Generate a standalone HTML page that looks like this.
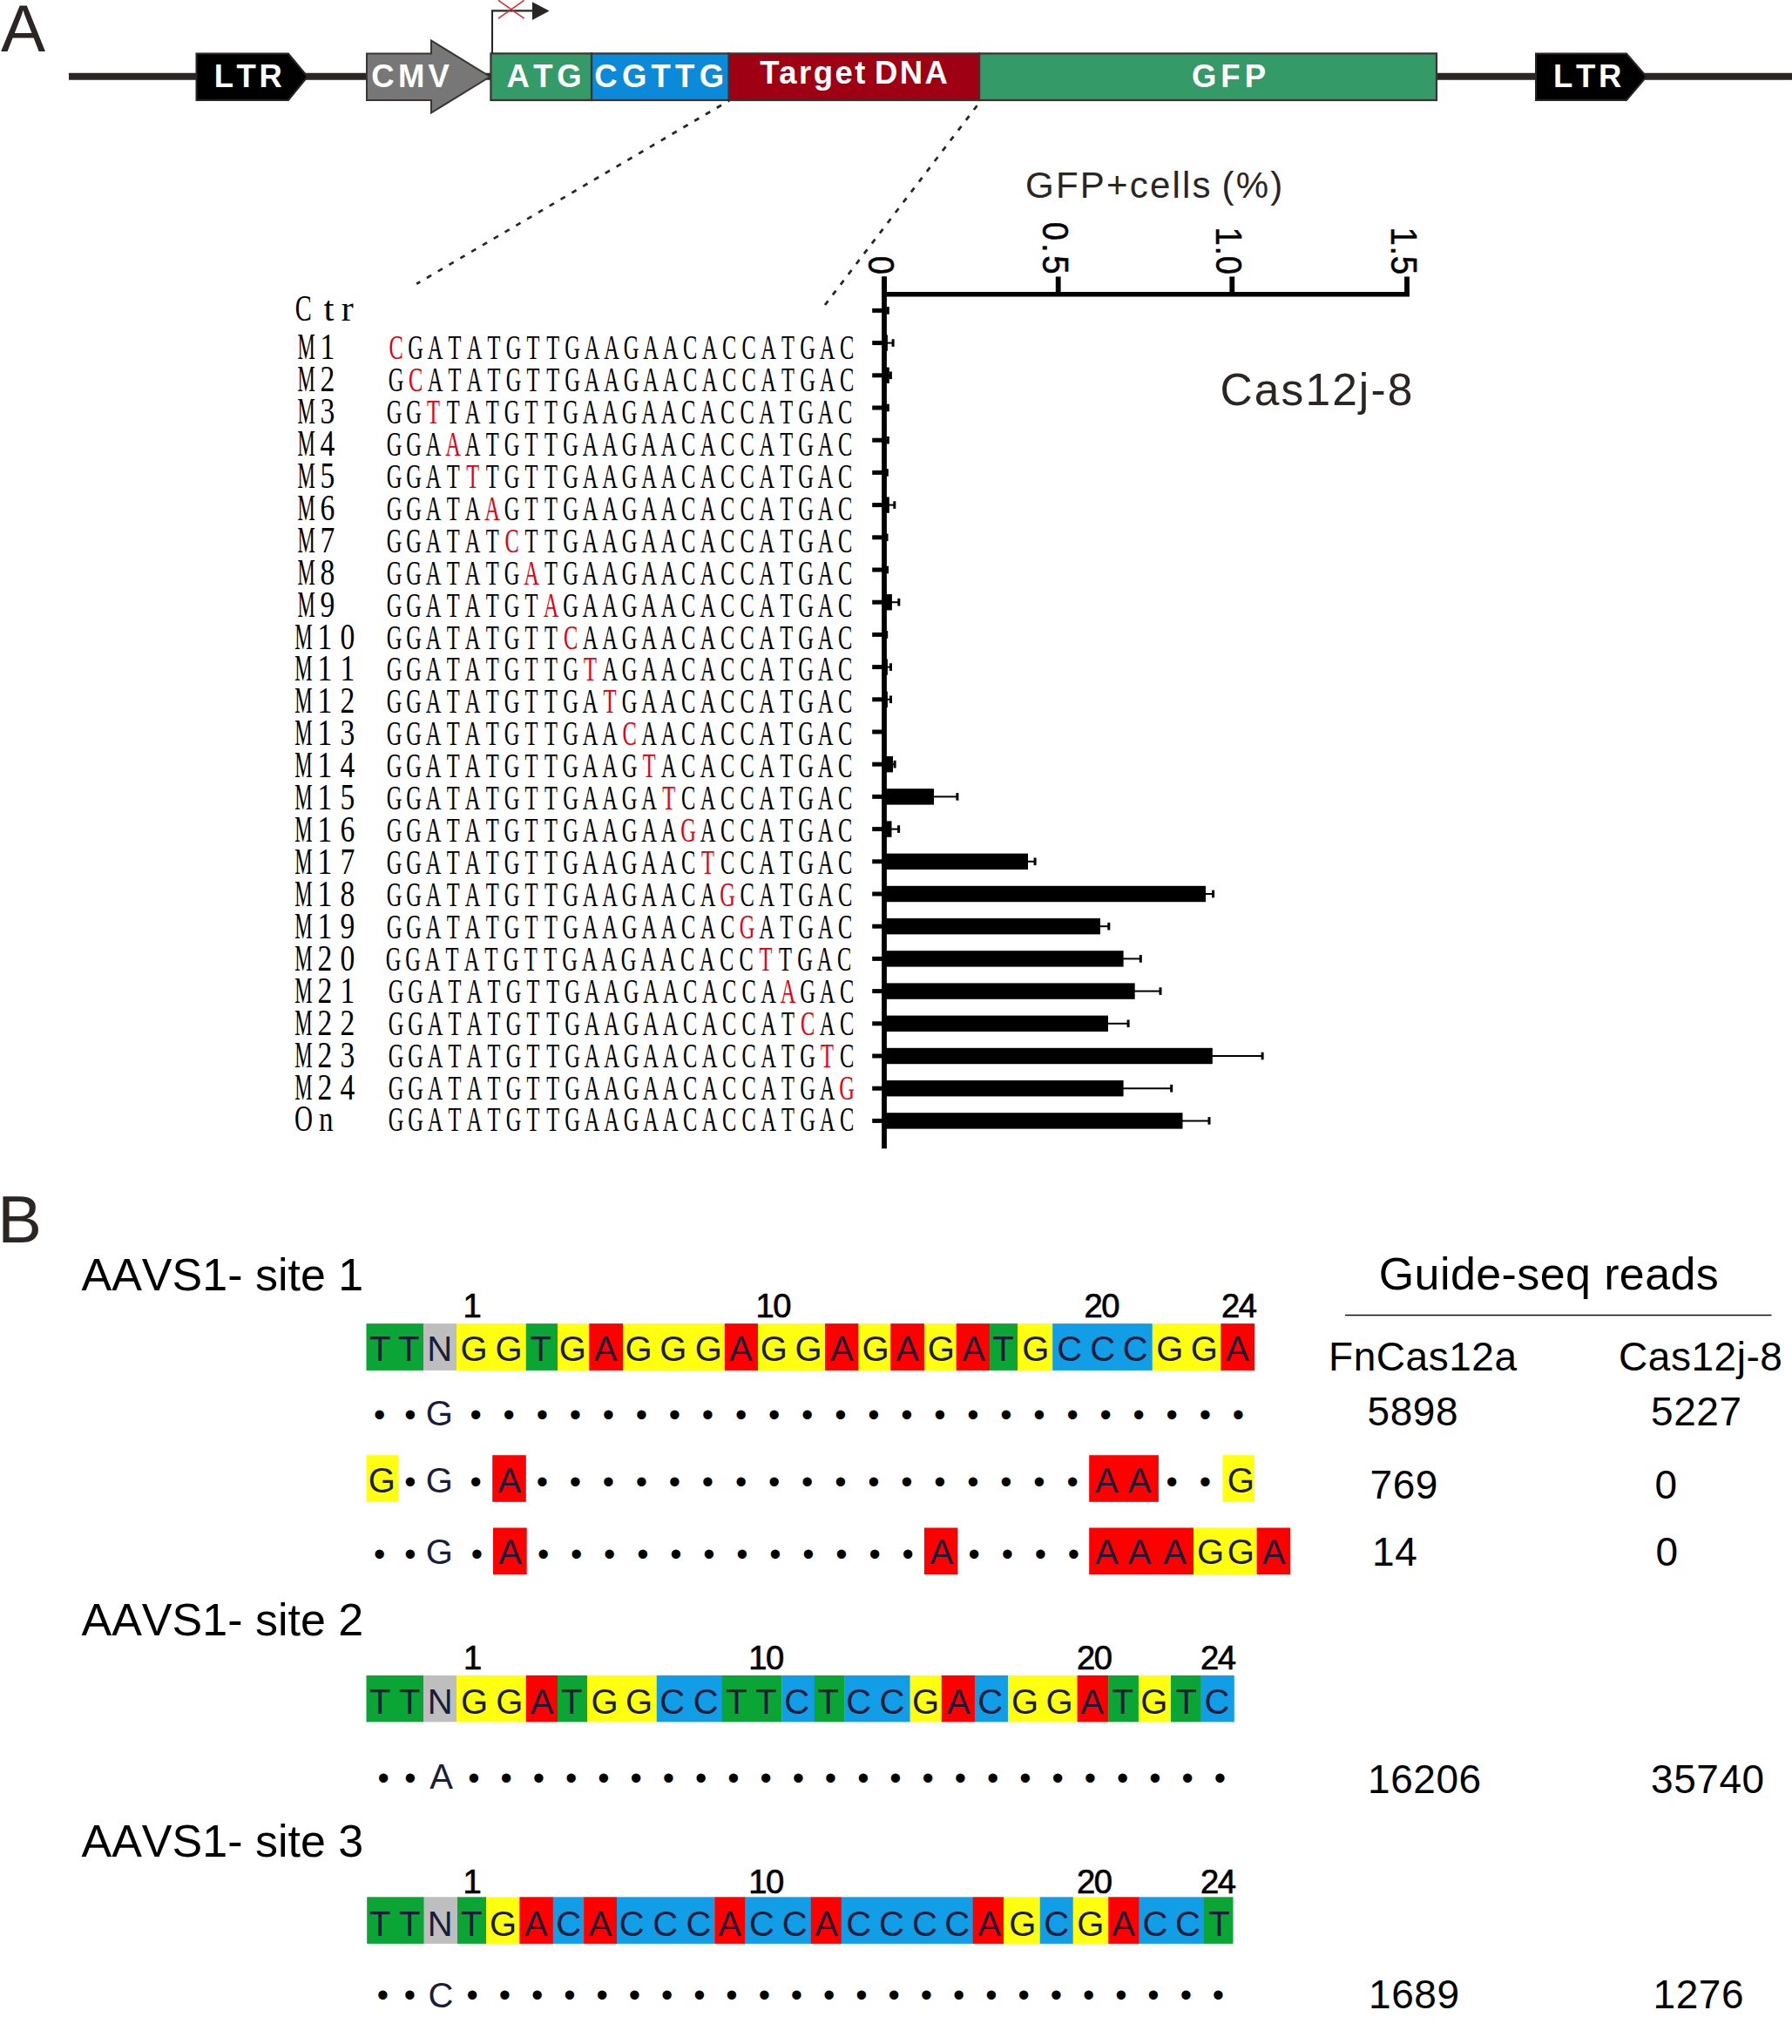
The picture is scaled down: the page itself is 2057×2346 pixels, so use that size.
<!DOCTYPE html>
<html lang="en"><head><meta charset="utf-8"><title>Figure</title>
<style>
html,body{margin:0;padding:0;background:#fff;}
svg{display:block;}
text{font-kerning:none;}
</style></head>
<body>
<svg width="2057" height="2346" viewBox="0 0 2057 2346">
<rect x="0" y="0" width="2057" height="2346" fill="#fff"/>
<g id="construct">
<line x1="79" y1="87.7" x2="2057" y2="87.7" stroke="#2b2523" stroke-width="8"/>
<polygon points="225.5,61.5 331,61.5 353,88 331,115 225.5,115" fill="#000" stroke="#2b2523" stroke-width="2" stroke-linejoin="miter"/>
<polygon points="1763,61.5 1867,61.5 1890,88 1867,115 1763,115" fill="#000" stroke="#2b2523" stroke-width="2" stroke-linejoin="miter"/>
<polygon points="421,61.5 495,61.5 495,46.5 562.5,88 495,129.5 495,115 421,115" fill="#777777" stroke="#3a3634" stroke-width="2"/>
<rect x="1124" y="61.4" width="525" height="53.6" fill="#349a67" stroke="#3a3330" stroke-width="2.2"/>
<rect x="836.5" y="61.4" width="287.5" height="53.6" fill="#9f0013" stroke="#3a3330" stroke-width="2.2"/>
<rect x="679" y="61.4" width="157.5" height="53.6" fill="#0a8ad8" stroke="#3a3330" stroke-width="2.2"/>
<rect x="563.4" y="61.4" width="115.60000000000002" height="53.6" fill="#349a67" stroke="#3a3330" stroke-width="2.2"/>
<polyline points="565,61 565,12.4 612,12.4" fill="none" stroke="#2b2523" stroke-width="2.1"/>
<polygon points="611,2.2 630.6,12.4 611,23" fill="#2b2523"/>
<line x1="572" y1="0.4" x2="601.6" y2="21.2" stroke="#e6212a" stroke-width="1.5"/>
<line x1="572" y1="21.2" x2="601.6" y2="0.4" stroke="#e6212a" stroke-width="1.5"/>
</g>
<text x="286.6" y="100.3" font-family='"Liberation Sans", sans-serif' font-weight="bold" font-size="36.5" fill="#fff" text-anchor="middle" letter-spacing="3.65">LTR</text>
<text x="1824" y="100.3" font-family='"Liberation Sans", sans-serif' font-weight="bold" font-size="36.5" fill="#fff" text-anchor="middle" letter-spacing="3.65">LTR</text>
<text x="473.2" y="100.3" font-family='"Liberation Sans", sans-serif' font-weight="bold" font-size="36.5" fill="#fff" text-anchor="middle" letter-spacing="4.2">CMV</text>
<text x="626.8" y="100.3" font-family='"Liberation Sans", sans-serif' font-weight="bold" font-size="36.5" fill="#fff" text-anchor="middle" letter-spacing="4.5">ATG</text>
<text x="759.3" y="100.3" font-family='"Liberation Sans", sans-serif' font-weight="bold" font-size="36.5" fill="#fff" text-anchor="middle" letter-spacing="5.25">CGTTG</text>
<text x="981.3" y="96.4" font-family='"Liberation Sans", sans-serif' font-weight="bold" font-size="36.5" fill="#fff" text-anchor="middle" letter-spacing="2.45" word-spacing="-4.5" style="font-kerning:normal">Target DNA</text>
<text x="1413" y="100.3" font-family='"Liberation Sans", sans-serif' font-weight="bold" font-size="36.5" fill="#fff" text-anchor="middle" letter-spacing="5">GFP</text>
<text x="1" y="58.5" font-family='"Liberation Sans", sans-serif' font-size="76.6" fill="#2b2523">A</text>
<text x="-2.8" y="1426" font-family='"Liberation Sans", sans-serif' font-size="76" fill="#2b2523">B</text>
<line x1="837" y1="115.5" x2="478.2" y2="325.8" stroke="#2b2523" stroke-width="2.8" stroke-dasharray="6 8.84" stroke-dashoffset="4.4"/>
<line x1="1124" y1="118" x2="947" y2="350" stroke="#2b2523" stroke-width="2.8" stroke-dasharray="6 8.84" stroke-dashoffset="10.76"/>
<g id="chart">
<text x="1325.8" y="227.3" font-family='"Liberation Sans", sans-serif' font-size="42" fill="#2b2523" text-anchor="middle" letter-spacing="2.2" word-spacing="-3">GFP+cells (%)</text>
<text x="1400.5" y="464.8" font-family='"Liberation Sans", sans-serif' font-size="51.5" fill="#2b2523" letter-spacing="2.1">Cas12j-8</text>
<line x1="1012.2" y1="337.7" x2="1618" y2="337.7" stroke="#000" stroke-width="5.4"/>
<line x1="1015" y1="317.5" x2="1015" y2="1318.2" stroke="#000" stroke-width="5.8"/>
<line x1="1015" y1="317.5" x2="1015" y2="337" stroke="#000" stroke-width="5.8"/>
<text transform="translate(997.1,315.2) rotate(90) scale(0.9,1)" font-family='"Liberation Sans", sans-serif' font-size="42.6" fill="#000" stroke="#000" stroke-width="0.5" text-anchor="end" letter-spacing="0">0</text>
<line x1="1214.7" y1="317.5" x2="1214.7" y2="337" stroke="#000" stroke-width="5.8"/>
<text transform="translate(1196.8,318.0) rotate(90) scale(0.9,1)" font-family='"Liberation Sans", sans-serif' font-size="42.6" fill="#000" stroke="#000" stroke-width="0.5" text-anchor="end" letter-spacing="3.7">0.5</text>
<line x1="1414.3" y1="317.5" x2="1414.3" y2="337" stroke="#000" stroke-width="5.8"/>
<text transform="translate(1396.4,315.6) rotate(90) scale(0.9,1)" font-family='"Liberation Sans", sans-serif' font-size="42.6" fill="#000" stroke="#000" stroke-width="0.5" text-anchor="end" letter-spacing="0.65">1.0</text>
<line x1="1615" y1="317.5" x2="1615" y2="337" stroke="#000" stroke-width="5.8"/>
<text transform="translate(1597.1,315.6) rotate(90) scale(0.9,1)" font-family='"Liberation Sans", sans-serif' font-size="42.6" fill="#000" stroke="#000" stroke-width="0.5" text-anchor="end" letter-spacing="0.65">1.5</text>
<line x1="1001.2" y1="356.4" x2="1013" y2="356.4" stroke="#000" stroke-width="5"/>
<line x1="1016.0" y1="356.4" x2="1019.8" y2="356.4" stroke="#000" stroke-width="2"/>
<rect x="1017.8" y="352.1" width="3" height="8.6" fill="#000"/>
<line x1="1001.2" y1="393.6" x2="1013" y2="393.6" stroke="#000" stroke-width="5"/>
<rect x="1016" y="384.4" width="2.9" height="18.4" fill="#000"/>
<line x1="1017.9" y1="393.6" x2="1025.6" y2="393.6" stroke="#000" stroke-width="2"/>
<rect x="1023.6" y="389.3" width="3" height="8.6" fill="#000"/>
<line x1="1001.2" y1="430.8" x2="1013" y2="430.8" stroke="#000" stroke-width="5"/>
<rect x="1016" y="421.6" width="4.8" height="18.4" fill="#000"/>
<line x1="1019.8" y1="430.8" x2="1022.9" y2="430.8" stroke="#000" stroke-width="2"/>
<rect x="1020.9" y="426.5" width="3" height="8.6" fill="#000"/>
<line x1="1001.2" y1="468.0" x2="1013" y2="468.0" stroke="#000" stroke-width="5"/>
<line x1="1016.0" y1="468.0" x2="1019.8" y2="468.0" stroke="#000" stroke-width="2"/>
<rect x="1017.8" y="463.7" width="3" height="8.6" fill="#000"/>
<line x1="1001.2" y1="505.2" x2="1013" y2="505.2" stroke="#000" stroke-width="5"/>
<line x1="1016.0" y1="505.2" x2="1019.8" y2="505.2" stroke="#000" stroke-width="2"/>
<rect x="1017.8" y="500.9" width="3" height="8.6" fill="#000"/>
<line x1="1001.2" y1="542.4" x2="1013" y2="542.4" stroke="#000" stroke-width="5"/>
<line x1="1016.0" y1="542.4" x2="1018.8" y2="542.4" stroke="#000" stroke-width="2"/>
<rect x="1016.8" y="538.1" width="3" height="8.6" fill="#000"/>
<line x1="1001.2" y1="579.6" x2="1013" y2="579.6" stroke="#000" stroke-width="5"/>
<rect x="1016" y="570.4" width="4.8" height="18.4" fill="#000"/>
<line x1="1019.8" y1="579.6" x2="1027.3" y2="579.6" stroke="#000" stroke-width="2"/>
<rect x="1025.3" y="575.3" width="3" height="8.6" fill="#000"/>
<line x1="1001.2" y1="616.8" x2="1013" y2="616.8" stroke="#000" stroke-width="5"/>
<line x1="1016.0" y1="616.8" x2="1018.5" y2="616.8" stroke="#000" stroke-width="2"/>
<rect x="1016.5" y="612.5" width="3" height="8.6" fill="#000"/>
<line x1="1001.2" y1="654.0" x2="1013" y2="654.0" stroke="#000" stroke-width="5"/>
<line x1="1016.0" y1="654.0" x2="1019.0" y2="654.0" stroke="#000" stroke-width="2"/>
<rect x="1017.0" y="649.7" width="3" height="8.6" fill="#000"/>
<line x1="1001.2" y1="691.2" x2="1013" y2="691.2" stroke="#000" stroke-width="5"/>
<rect x="1016" y="682.0" width="7.9" height="18.4" fill="#000"/>
<line x1="1022.9" y1="691.2" x2="1032.3" y2="691.2" stroke="#000" stroke-width="2"/>
<rect x="1030.3" y="686.9" width="3" height="8.6" fill="#000"/>
<line x1="1001.2" y1="728.4" x2="1013" y2="728.4" stroke="#000" stroke-width="5"/>
<line x1="1016.0" y1="728.4" x2="1018.2" y2="728.4" stroke="#000" stroke-width="2"/>
<rect x="1016.2" y="724.1" width="3" height="8.6" fill="#000"/>
<line x1="1001.2" y1="765.6" x2="1013" y2="765.6" stroke="#000" stroke-width="5"/>
<rect x="1016" y="756.4" width="2.9" height="18.4" fill="#000"/>
<line x1="1017.9" y1="765.6" x2="1023.0" y2="765.6" stroke="#000" stroke-width="2"/>
<rect x="1021.0" y="761.3" width="3" height="8.6" fill="#000"/>
<line x1="1001.2" y1="802.8" x2="1013" y2="802.8" stroke="#000" stroke-width="5"/>
<rect x="1016" y="793.6" width="2.9" height="18.4" fill="#000"/>
<line x1="1017.9" y1="802.8" x2="1023.0" y2="802.8" stroke="#000" stroke-width="2"/>
<rect x="1021.0" y="798.5" width="3" height="8.6" fill="#000"/>
<line x1="1001.2" y1="840.0" x2="1013" y2="840.0" stroke="#000" stroke-width="5"/>
<line x1="1001.2" y1="877.2" x2="1013" y2="877.2" stroke="#000" stroke-width="5"/>
<rect x="1016" y="868.0" width="9.0" height="18.4" fill="#000"/>
<line x1="1024.0" y1="877.2" x2="1027.6" y2="877.2" stroke="#000" stroke-width="2"/>
<rect x="1025.6" y="872.9" width="3" height="8.6" fill="#000"/>
<line x1="1001.2" y1="914.4" x2="1013" y2="914.4" stroke="#000" stroke-width="5"/>
<rect x="1016" y="905.2" width="56.0" height="18.4" fill="#000"/>
<line x1="1071.0" y1="914.4" x2="1099.4" y2="914.4" stroke="#000" stroke-width="2"/>
<rect x="1097.4" y="910.1" width="3" height="8.6" fill="#000"/>
<line x1="1001.2" y1="951.6" x2="1013" y2="951.6" stroke="#000" stroke-width="5"/>
<rect x="1016" y="942.4" width="7.5" height="18.4" fill="#000"/>
<line x1="1022.5" y1="951.6" x2="1032.1" y2="951.6" stroke="#000" stroke-width="2"/>
<rect x="1030.1" y="947.3" width="3" height="8.6" fill="#000"/>
<line x1="1001.2" y1="988.8" x2="1013" y2="988.8" stroke="#000" stroke-width="5"/>
<rect x="1016" y="979.6" width="164.0" height="18.4" fill="#000"/>
<line x1="1179.0" y1="988.8" x2="1188.6" y2="988.8" stroke="#000" stroke-width="2"/>
<rect x="1186.6" y="984.5" width="3" height="8.6" fill="#000"/>
<line x1="1001.2" y1="1026.0" x2="1013" y2="1026.0" stroke="#000" stroke-width="5"/>
<rect x="1016" y="1016.8" width="368.0" height="18.4" fill="#000"/>
<line x1="1383.0" y1="1026.0" x2="1393.1" y2="1026.0" stroke="#000" stroke-width="2"/>
<rect x="1391.1" y="1021.7" width="3" height="8.6" fill="#000"/>
<line x1="1001.2" y1="1063.2" x2="1013" y2="1063.2" stroke="#000" stroke-width="5"/>
<rect x="1016" y="1054.0" width="247.0" height="18.4" fill="#000"/>
<line x1="1262.0" y1="1063.2" x2="1273.3" y2="1063.2" stroke="#000" stroke-width="2"/>
<rect x="1271.3" y="1058.9" width="3" height="8.6" fill="#000"/>
<line x1="1001.2" y1="1100.4" x2="1013" y2="1100.4" stroke="#000" stroke-width="5"/>
<rect x="1016" y="1091.2" width="273.6" height="18.4" fill="#000"/>
<line x1="1288.6" y1="1100.4" x2="1309.8" y2="1100.4" stroke="#000" stroke-width="2"/>
<rect x="1307.8" y="1096.1" width="3" height="8.6" fill="#000"/>
<line x1="1001.2" y1="1137.6" x2="1013" y2="1137.6" stroke="#000" stroke-width="5"/>
<rect x="1016" y="1128.4" width="286.7" height="18.4" fill="#000"/>
<line x1="1301.7" y1="1137.6" x2="1332.5" y2="1137.6" stroke="#000" stroke-width="2"/>
<rect x="1330.5" y="1133.3" width="3" height="8.6" fill="#000"/>
<line x1="1001.2" y1="1174.8" x2="1013" y2="1174.8" stroke="#000" stroke-width="5"/>
<rect x="1016" y="1165.6" width="256.0" height="18.4" fill="#000"/>
<line x1="1271.0" y1="1174.8" x2="1295.6" y2="1174.8" stroke="#000" stroke-width="2"/>
<rect x="1293.6" y="1170.5" width="3" height="8.6" fill="#000"/>
<line x1="1001.2" y1="1212.0" x2="1013" y2="1212.0" stroke="#000" stroke-width="5"/>
<rect x="1016" y="1202.8" width="375.8" height="18.4" fill="#000"/>
<line x1="1390.8" y1="1212.0" x2="1449.6" y2="1212.0" stroke="#000" stroke-width="2"/>
<rect x="1447.6" y="1207.7" width="3" height="8.6" fill="#000"/>
<line x1="1001.2" y1="1249.2" x2="1013" y2="1249.2" stroke="#000" stroke-width="5"/>
<rect x="1016" y="1240.0" width="273.6" height="18.4" fill="#000"/>
<line x1="1288.6" y1="1249.2" x2="1345.2" y2="1249.2" stroke="#000" stroke-width="2"/>
<rect x="1343.2" y="1244.9" width="3" height="8.6" fill="#000"/>
<line x1="1001.2" y1="1286.4" x2="1013" y2="1286.4" stroke="#000" stroke-width="5"/>
<rect x="1016" y="1277.2" width="341.5" height="18.4" fill="#000"/>
<line x1="1356.5" y1="1286.4" x2="1388.5" y2="1286.4" stroke="#000" stroke-width="2"/>
<rect x="1386.5" y="1282.1" width="3" height="8.6" fill="#000"/>
<text y="368.4" font-family='"Liberation Serif", serif' font-size="43" fill="#000"><tspan x="338.7" textLength="19.0" lengthAdjust="spacingAndGlyphs">C</tspan><tspan x="371.5" textLength="12.0" lengthAdjust="spacingAndGlyphs" font-size="40">t</tspan><tspan x="391.7" textLength="14.0" lengthAdjust="spacingAndGlyphs" font-size="40">r</tspan></text>
<text y="412.1" font-family='"Liberation Serif", serif' font-size="43" fill="#000"><tspan x="341.5" textLength="20.3" lengthAdjust="spacingAndGlyphs">M</tspan><tspan x="367.4" textLength="16.8" lengthAdjust="spacingAndGlyphs">1</tspan></text>
<text transform="translate(0,412.1) scale(0.597,1)" x="761.5 799.2 836.9 874.5 912.2 949.9 987.6 1025.3 1063.0 1100.7 1138.4 1176.0 1213.7 1251.4 1289.1 1326.8 1364.5 1402.2 1439.9 1477.6 1515.2 1552.9 1590.6 1628.3" y="0" font-family='"Liberation Serif", serif' font-size="41" fill="#000" text-anchor="middle"><tspan fill="#e60012">C</tspan>GATATGTTGAAGAACACCATGAC</text>
<text y="449.0" font-family='"Liberation Serif", serif' font-size="43" fill="#000"><tspan x="341.5" textLength="20.3" lengthAdjust="spacingAndGlyphs">M</tspan><tspan x="367.4" textLength="16.8" lengthAdjust="spacingAndGlyphs">2</tspan></text>
<text transform="translate(0,449.0) scale(0.597,1)" x="761.5 799.2 836.9 874.5 912.2 949.9 987.6 1025.3 1063.0 1100.7 1138.4 1176.0 1213.7 1251.4 1289.1 1326.8 1364.5 1402.2 1439.9 1477.6 1515.2 1552.9 1590.6 1628.3" y="0" font-family='"Liberation Serif", serif' font-size="41" fill="#000" text-anchor="middle">G<tspan fill="#e60012">C</tspan>ATATGTTGAAGAACACCATGAC</text>
<text y="486.0" font-family='"Liberation Serif", serif' font-size="43" fill="#000"><tspan x="341.5" textLength="20.3" lengthAdjust="spacingAndGlyphs">M</tspan><tspan x="367.4" textLength="16.8" lengthAdjust="spacingAndGlyphs">3</tspan></text>
<text transform="translate(0,486.0) scale(0.597,1)" x="758.1 795.8 833.5 871.2 908.9 946.6 984.3 1021.9 1059.6 1097.3 1135.0 1172.7 1210.4 1248.1 1285.8 1323.5 1361.1 1398.8 1436.5 1474.2 1511.9 1549.6 1587.3 1625.0" y="0" font-family='"Liberation Serif", serif' font-size="41" fill="#000" text-anchor="middle">GG<tspan fill="#e60012">T</tspan>TATGTTGAAGAACACCATGAC</text>
<text y="522.9" font-family='"Liberation Serif", serif' font-size="43" fill="#000"><tspan x="341.5" textLength="20.3" lengthAdjust="spacingAndGlyphs">M</tspan><tspan x="367.4" textLength="16.8" lengthAdjust="spacingAndGlyphs">4</tspan></text>
<text transform="translate(0,522.9) scale(0.597,1)" x="758.1 795.8 833.5 871.2 908.9 946.6 984.3 1021.9 1059.6 1097.3 1135.0 1172.7 1210.4 1248.1 1285.8 1323.5 1361.1 1398.8 1436.5 1474.2 1511.9 1549.6 1587.3 1625.0" y="0" font-family='"Liberation Serif", serif' font-size="41" fill="#000" text-anchor="middle">GGA<tspan fill="#e60012">A</tspan>ATGTTGAAGAACACCATGAC</text>
<text y="559.8" font-family='"Liberation Serif", serif' font-size="43" fill="#000"><tspan x="341.5" textLength="20.3" lengthAdjust="spacingAndGlyphs">M</tspan><tspan x="367.4" textLength="16.8" lengthAdjust="spacingAndGlyphs">5</tspan></text>
<text transform="translate(0,559.8) scale(0.597,1)" x="758.1 795.8 833.5 871.2 908.9 946.6 984.3 1021.9 1059.6 1097.3 1135.0 1172.7 1210.4 1248.1 1285.8 1323.5 1361.1 1398.8 1436.5 1474.2 1511.9 1549.6 1587.3 1625.0" y="0" font-family='"Liberation Serif", serif' font-size="41" fill="#000" text-anchor="middle">GGAT<tspan fill="#e60012">T</tspan>TGTTGAAGAACACCATGAC</text>
<text y="596.8" font-family='"Liberation Serif", serif' font-size="43" fill="#000"><tspan x="341.5" textLength="20.3" lengthAdjust="spacingAndGlyphs">M</tspan><tspan x="367.4" textLength="16.8" lengthAdjust="spacingAndGlyphs">6</tspan></text>
<text transform="translate(0,596.8) scale(0.597,1)" x="758.1 795.8 833.5 871.2 908.9 946.6 984.3 1021.9 1059.6 1097.3 1135.0 1172.7 1210.4 1248.1 1285.8 1323.5 1361.1 1398.8 1436.5 1474.2 1511.9 1549.6 1587.3 1625.0" y="0" font-family='"Liberation Serif", serif' font-size="41" fill="#000" text-anchor="middle">GGATA<tspan fill="#e60012">A</tspan>GTTGAAGAACACCATGAC</text>
<text y="633.7" font-family='"Liberation Serif", serif' font-size="43" fill="#000"><tspan x="341.5" textLength="20.3" lengthAdjust="spacingAndGlyphs">M</tspan><tspan x="367.4" textLength="16.8" lengthAdjust="spacingAndGlyphs">7</tspan></text>
<text transform="translate(0,633.7) scale(0.597,1)" x="758.1 795.8 833.5 871.2 908.9 946.6 984.3 1021.9 1059.6 1097.3 1135.0 1172.7 1210.4 1248.1 1285.8 1323.5 1361.1 1398.8 1436.5 1474.2 1511.9 1549.6 1587.3 1625.0" y="0" font-family='"Liberation Serif", serif' font-size="41" fill="#000" text-anchor="middle">GGATAT<tspan fill="#e60012">C</tspan>TTGAAGAACACCATGAC</text>
<text y="670.6" font-family='"Liberation Serif", serif' font-size="43" fill="#000"><tspan x="341.5" textLength="20.3" lengthAdjust="spacingAndGlyphs">M</tspan><tspan x="367.4" textLength="16.8" lengthAdjust="spacingAndGlyphs">8</tspan></text>
<text transform="translate(0,670.6) scale(0.597,1)" x="758.1 795.8 833.5 871.2 908.9 946.6 984.3 1021.9 1059.6 1097.3 1135.0 1172.7 1210.4 1248.1 1285.8 1323.5 1361.1 1398.8 1436.5 1474.2 1511.9 1549.6 1587.3 1625.0" y="0" font-family='"Liberation Serif", serif' font-size="41" fill="#000" text-anchor="middle">GGATATG<tspan fill="#e60012">A</tspan>TGAAGAACACCATGAC</text>
<text y="707.5" font-family='"Liberation Serif", serif' font-size="43" fill="#000"><tspan x="341.5" textLength="20.3" lengthAdjust="spacingAndGlyphs">M</tspan><tspan x="367.4" textLength="16.8" lengthAdjust="spacingAndGlyphs">9</tspan></text>
<text transform="translate(0,707.5) scale(0.597,1)" x="758.1 795.8 833.5 871.2 908.9 946.6 984.3 1021.9 1059.6 1097.3 1135.0 1172.7 1210.4 1248.1 1285.8 1323.5 1361.1 1398.8 1436.5 1474.2 1511.9 1549.6 1587.3 1625.0" y="0" font-family='"Liberation Serif", serif' font-size="41" fill="#000" text-anchor="middle">GGATATGT<tspan fill="#e60012">A</tspan>GAAGAACACCATGAC</text>
<text y="744.5" font-family='"Liberation Serif", serif' font-size="43" fill="#000"><tspan x="338.2" textLength="20.3" lengthAdjust="spacingAndGlyphs">M</tspan><tspan x="364.4" textLength="16.8" lengthAdjust="spacingAndGlyphs">1</tspan><tspan x="390.5" textLength="16.8" lengthAdjust="spacingAndGlyphs">0</tspan></text>
<text transform="translate(0,744.5) scale(0.597,1)" x="758.1 795.8 833.5 871.2 908.9 946.6 984.3 1021.9 1059.6 1097.3 1135.0 1172.7 1210.4 1248.1 1285.8 1323.5 1361.1 1398.8 1436.5 1474.2 1511.9 1549.6 1587.3 1625.0" y="0" font-family='"Liberation Serif", serif' font-size="41" fill="#000" text-anchor="middle">GGATATGTT<tspan fill="#e60012">C</tspan>AAGAACACCATGAC</text>
<text y="781.4" font-family='"Liberation Serif", serif' font-size="43" fill="#000"><tspan x="338.2" textLength="20.3" lengthAdjust="spacingAndGlyphs">M</tspan><tspan x="364.4" textLength="16.8" lengthAdjust="spacingAndGlyphs">1</tspan><tspan x="390.5" textLength="16.8" lengthAdjust="spacingAndGlyphs">1</tspan></text>
<text transform="translate(0,781.4) scale(0.597,1)" x="758.1 795.8 833.5 871.2 908.9 946.6 984.3 1021.9 1059.6 1097.3 1135.0 1172.7 1210.4 1248.1 1285.8 1323.5 1361.1 1398.8 1436.5 1474.2 1511.9 1549.6 1587.3 1625.0" y="0" font-family='"Liberation Serif", serif' font-size="41" fill="#000" text-anchor="middle">GGATATGTTG<tspan fill="#e60012">T</tspan>AGAACACCATGAC</text>
<text y="818.3" font-family='"Liberation Serif", serif' font-size="43" fill="#000"><tspan x="338.2" textLength="20.3" lengthAdjust="spacingAndGlyphs">M</tspan><tspan x="364.4" textLength="16.8" lengthAdjust="spacingAndGlyphs">1</tspan><tspan x="390.5" textLength="16.8" lengthAdjust="spacingAndGlyphs">2</tspan></text>
<text transform="translate(0,818.3) scale(0.597,1)" x="758.1 795.8 833.5 871.2 908.9 946.6 984.3 1021.9 1059.6 1097.3 1135.0 1172.7 1210.4 1248.1 1285.8 1323.5 1361.1 1398.8 1436.5 1474.2 1511.9 1549.6 1587.3 1625.0" y="0" font-family='"Liberation Serif", serif' font-size="41" fill="#000" text-anchor="middle">GGATATGTTGA<tspan fill="#e60012">T</tspan>GAACACCATGAC</text>
<text y="855.3" font-family='"Liberation Serif", serif' font-size="43" fill="#000"><tspan x="338.2" textLength="20.3" lengthAdjust="spacingAndGlyphs">M</tspan><tspan x="364.4" textLength="16.8" lengthAdjust="spacingAndGlyphs">1</tspan><tspan x="390.5" textLength="16.8" lengthAdjust="spacingAndGlyphs">3</tspan></text>
<text transform="translate(0,855.3) scale(0.597,1)" x="758.1 795.8 833.5 871.2 908.9 946.6 984.3 1021.9 1059.6 1097.3 1135.0 1172.7 1210.4 1248.1 1285.8 1323.5 1361.1 1398.8 1436.5 1474.2 1511.9 1549.6 1587.3 1625.0" y="0" font-family='"Liberation Serif", serif' font-size="41" fill="#000" text-anchor="middle">GGATATGTTGAA<tspan fill="#e60012">C</tspan>AACACCATGAC</text>
<text y="892.2" font-family='"Liberation Serif", serif' font-size="43" fill="#000"><tspan x="338.2" textLength="20.3" lengthAdjust="spacingAndGlyphs">M</tspan><tspan x="364.4" textLength="16.8" lengthAdjust="spacingAndGlyphs">1</tspan><tspan x="390.5" textLength="16.8" lengthAdjust="spacingAndGlyphs">4</tspan></text>
<text transform="translate(0,892.2) scale(0.597,1)" x="758.1 795.8 833.5 871.2 908.9 946.6 984.3 1021.9 1059.6 1097.3 1135.0 1172.7 1210.4 1248.1 1285.8 1323.5 1361.1 1398.8 1436.5 1474.2 1511.9 1549.6 1587.3 1625.0" y="0" font-family='"Liberation Serif", serif' font-size="41" fill="#000" text-anchor="middle">GGATATGTTGAAG<tspan fill="#e60012">T</tspan>ACACCATGAC</text>
<text y="929.1" font-family='"Liberation Serif", serif' font-size="43" fill="#000"><tspan x="338.2" textLength="20.3" lengthAdjust="spacingAndGlyphs">M</tspan><tspan x="364.4" textLength="16.8" lengthAdjust="spacingAndGlyphs">1</tspan><tspan x="390.5" textLength="16.8" lengthAdjust="spacingAndGlyphs">5</tspan></text>
<text transform="translate(0,929.1) scale(0.597,1)" x="758.1 795.8 833.5 871.2 908.9 946.6 984.3 1021.9 1059.6 1097.3 1135.0 1172.7 1210.4 1248.1 1285.8 1323.5 1361.1 1398.8 1436.5 1474.2 1511.9 1549.6 1587.3 1625.0" y="0" font-family='"Liberation Serif", serif' font-size="41" fill="#000" text-anchor="middle">GGATATGTTGAAGA<tspan fill="#e60012">T</tspan>CACCATGAC</text>
<text y="966.1" font-family='"Liberation Serif", serif' font-size="43" fill="#000"><tspan x="338.2" textLength="20.3" lengthAdjust="spacingAndGlyphs">M</tspan><tspan x="364.4" textLength="16.8" lengthAdjust="spacingAndGlyphs">1</tspan><tspan x="390.5" textLength="16.8" lengthAdjust="spacingAndGlyphs">6</tspan></text>
<text transform="translate(0,966.1) scale(0.597,1)" x="758.1 795.8 833.5 871.2 908.9 946.6 984.3 1021.9 1059.6 1097.3 1135.0 1172.7 1210.4 1248.1 1285.8 1323.5 1361.1 1398.8 1436.5 1474.2 1511.9 1549.6 1587.3 1625.0" y="0" font-family='"Liberation Serif", serif' font-size="41" fill="#000" text-anchor="middle">GGATATGTTGAAGAA<tspan fill="#e60012">G</tspan>ACCATGAC</text>
<text y="1003.0" font-family='"Liberation Serif", serif' font-size="43" fill="#000"><tspan x="338.2" textLength="20.3" lengthAdjust="spacingAndGlyphs">M</tspan><tspan x="364.4" textLength="16.8" lengthAdjust="spacingAndGlyphs">1</tspan><tspan x="390.5" textLength="16.8" lengthAdjust="spacingAndGlyphs">7</tspan></text>
<text transform="translate(0,1003.0) scale(0.597,1)" x="758.1 795.8 833.5 871.2 908.9 946.6 984.3 1021.9 1059.6 1097.3 1135.0 1172.7 1210.4 1248.1 1285.8 1323.5 1361.1 1398.8 1436.5 1474.2 1511.9 1549.6 1587.3 1625.0" y="0" font-family='"Liberation Serif", serif' font-size="41" fill="#000" text-anchor="middle">GGATATGTTGAAGAAC<tspan fill="#e60012">T</tspan>CCATGAC</text>
<text y="1039.9" font-family='"Liberation Serif", serif' font-size="43" fill="#000"><tspan x="338.2" textLength="20.3" lengthAdjust="spacingAndGlyphs">M</tspan><tspan x="364.4" textLength="16.8" lengthAdjust="spacingAndGlyphs">1</tspan><tspan x="390.5" textLength="16.8" lengthAdjust="spacingAndGlyphs">8</tspan></text>
<text transform="translate(0,1039.9) scale(0.597,1)" x="758.1 795.8 833.5 871.2 908.9 946.6 984.3 1021.9 1059.6 1097.3 1135.0 1172.7 1210.4 1248.1 1285.8 1323.5 1361.1 1398.8 1436.5 1474.2 1511.9 1549.6 1587.3 1625.0" y="0" font-family='"Liberation Serif", serif' font-size="41" fill="#000" text-anchor="middle">GGATATGTTGAAGAACA<tspan fill="#e60012">G</tspan>CATGAC</text>
<text y="1076.8" font-family='"Liberation Serif", serif' font-size="43" fill="#000"><tspan x="338.2" textLength="20.3" lengthAdjust="spacingAndGlyphs">M</tspan><tspan x="364.4" textLength="16.8" lengthAdjust="spacingAndGlyphs">1</tspan><tspan x="390.5" textLength="16.8" lengthAdjust="spacingAndGlyphs">9</tspan></text>
<text transform="translate(0,1076.8) scale(0.597,1)" x="758.1 795.8 833.5 871.2 908.9 946.6 984.3 1021.9 1059.6 1097.3 1135.0 1172.7 1210.4 1248.1 1285.8 1323.5 1361.1 1398.8 1436.5 1474.2 1511.9 1549.6 1587.3 1625.0" y="0" font-family='"Liberation Serif", serif' font-size="41" fill="#000" text-anchor="middle">GGATATGTTGAAGAACAC<tspan fill="#e60012">G</tspan>ATGAC</text>
<text y="1113.8" font-family='"Liberation Serif", serif' font-size="43" fill="#000"><tspan x="338.2" textLength="20.3" lengthAdjust="spacingAndGlyphs">M</tspan><tspan x="364.4" textLength="16.8" lengthAdjust="spacingAndGlyphs">2</tspan><tspan x="390.5" textLength="16.8" lengthAdjust="spacingAndGlyphs">0</tspan></text>
<text transform="translate(0,1113.8) scale(0.597,1)" x="756.4 794.1 831.8 869.5 907.2 944.9 982.6 1020.3 1058.0 1095.6 1133.3 1171.0 1208.7 1246.4 1284.1 1321.8 1359.5 1397.2 1434.8 1472.5 1510.2 1547.9 1585.6 1623.3" y="0" font-family='"Liberation Serif", serif' font-size="41" fill="#000" text-anchor="middle">GGATATGTTGAAGAACACC<tspan fill="#e60012">T</tspan>TGAC</text>
<text y="1150.7" font-family='"Liberation Serif", serif' font-size="43" fill="#000"><tspan x="338.2" textLength="20.3" lengthAdjust="spacingAndGlyphs">M</tspan><tspan x="364.4" textLength="16.8" lengthAdjust="spacingAndGlyphs">2</tspan><tspan x="390.5" textLength="16.8" lengthAdjust="spacingAndGlyphs">1</tspan></text>
<text transform="translate(0,1150.7) scale(0.597,1)" x="761.5 799.2 836.9 874.5 912.2 949.9 987.6 1025.3 1063.0 1100.7 1138.4 1176.0 1213.7 1251.4 1289.1 1326.8 1364.5 1402.2 1439.9 1477.6 1515.2 1552.9 1590.6 1628.3" y="0" font-family='"Liberation Serif", serif' font-size="41" fill="#000" text-anchor="middle">GGATATGTTGAAGAACACCA<tspan fill="#e60012">A</tspan>GAC</text>
<text y="1187.6" font-family='"Liberation Serif", serif' font-size="43" fill="#000"><tspan x="338.2" textLength="20.3" lengthAdjust="spacingAndGlyphs">M</tspan><tspan x="364.4" textLength="16.8" lengthAdjust="spacingAndGlyphs">2</tspan><tspan x="390.5" textLength="16.8" lengthAdjust="spacingAndGlyphs">2</tspan></text>
<text transform="translate(0,1187.6) scale(0.597,1)" x="761.5 799.2 836.9 874.5 912.2 949.9 987.6 1025.3 1063.0 1100.7 1138.4 1176.0 1213.7 1251.4 1289.1 1326.8 1364.5 1402.2 1439.9 1477.6 1515.2 1552.9 1590.6 1628.3" y="0" font-family='"Liberation Serif", serif' font-size="41" fill="#000" text-anchor="middle">GGATATGTTGAAGAACACCAT<tspan fill="#e60012">C</tspan>AC</text>
<text y="1224.6" font-family='"Liberation Serif", serif' font-size="43" fill="#000"><tspan x="338.2" textLength="20.3" lengthAdjust="spacingAndGlyphs">M</tspan><tspan x="364.4" textLength="16.8" lengthAdjust="spacingAndGlyphs">2</tspan><tspan x="390.5" textLength="16.8" lengthAdjust="spacingAndGlyphs">3</tspan></text>
<text transform="translate(0,1224.6) scale(0.597,1)" x="761.5 799.2 836.9 874.5 912.2 949.9 987.6 1025.3 1063.0 1100.7 1138.4 1176.0 1213.7 1251.4 1289.1 1326.8 1364.5 1402.2 1439.9 1477.6 1515.2 1552.9 1590.6 1628.3" y="0" font-family='"Liberation Serif", serif' font-size="41" fill="#000" text-anchor="middle">GGATATGTTGAAGAACACCATG<tspan fill="#e60012">T</tspan>C</text>
<text y="1261.5" font-family='"Liberation Serif", serif' font-size="43" fill="#000"><tspan x="338.2" textLength="20.3" lengthAdjust="spacingAndGlyphs">M</tspan><tspan x="364.4" textLength="16.8" lengthAdjust="spacingAndGlyphs">2</tspan><tspan x="390.5" textLength="16.8" lengthAdjust="spacingAndGlyphs">4</tspan></text>
<text transform="translate(0,1261.5) scale(0.597,1)" x="761.5 799.2 836.9 874.5 912.2 949.9 987.6 1025.3 1063.0 1100.7 1138.4 1176.0 1213.7 1251.4 1289.1 1326.8 1364.5 1402.2 1439.9 1477.6 1515.2 1552.9 1590.6 1628.3" y="0" font-family='"Liberation Serif", serif' font-size="41" fill="#000" text-anchor="middle">GGATATGTTGAAGAACACCATGA<tspan fill="#e60012">G</tspan></text>
<text y="1298.4" font-family='"Liberation Serif", serif' font-size="43" fill="#000"><tspan x="338.0" textLength="21.0" lengthAdjust="spacingAndGlyphs">O</tspan><tspan x="365.9" textLength="16.5" lengthAdjust="spacingAndGlyphs" font-size="40">n</tspan></text>
<text transform="translate(0,1298.4) scale(0.597,1)" x="761.5 799.2 836.9 874.5 912.2 949.9 987.6 1025.3 1063.0 1100.7 1138.4 1176.0 1213.7 1251.4 1289.1 1326.8 1364.5 1402.2 1439.9 1477.6 1515.2 1552.9 1590.6 1628.3" y="0" font-family='"Liberation Serif", serif' font-size="41" fill="#000" text-anchor="middle">GGATATGTTGAAGAACACCATGAC</text>
</g>
<g id="panelB">
<text x="93.5" y="1480.8" font-family='"Liberation Sans", sans-serif' font-size="52" fill="#000">AAVS1- site 1</text>
<text x="93.5" y="1876.8" font-family='"Liberation Sans", sans-serif' font-size="52" fill="#000">AAVS1- site 2</text>
<text x="93.5" y="2131.3" font-family='"Liberation Sans", sans-serif' font-size="52" fill="#000">AAVS1- site 3</text>
<text x="1778" y="1480" font-family='"Liberation Sans", sans-serif' font-size="52" fill="#000" text-anchor="middle" letter-spacing="0.4">Guide-seq reads</text>
<line x1="1544" y1="1509.5" x2="2033.5" y2="1509.5" stroke="#111" stroke-width="1.6"/>
<text x="1525" y="1573" font-family='"Liberation Sans", sans-serif' font-size="46" fill="#000" text-anchor="start" letter-spacing="0.55">FnCas12a</text>
<text x="1858" y="1573" font-family='"Liberation Sans", sans-serif' font-size="46" fill="#000" text-anchor="start" letter-spacing="0.55">Cas12j-8</text>
<text x="1569.5" y="1636" font-family='"Liberation Sans", sans-serif' font-size="46" fill="#000" text-anchor="start" letter-spacing="0.55">5898</text>
<text x="1895" y="1636" font-family='"Liberation Sans", sans-serif' font-size="46" fill="#000" text-anchor="start" letter-spacing="0.55">5227</text>
<text x="1572.5" y="1720" font-family='"Liberation Sans", sans-serif' font-size="46" fill="#000" text-anchor="start" letter-spacing="0.55">769</text>
<text x="1899.5" y="1720" font-family='"Liberation Sans", sans-serif' font-size="46" fill="#000" text-anchor="start" letter-spacing="0.55">0</text>
<text x="1575" y="1797" font-family='"Liberation Sans", sans-serif' font-size="46" fill="#000" text-anchor="start" letter-spacing="0.55">14</text>
<text x="1900.5" y="1797" font-family='"Liberation Sans", sans-serif' font-size="46" fill="#000" text-anchor="start" letter-spacing="0.55">0</text>
<text x="1570" y="2058" font-family='"Liberation Sans", sans-serif' font-size="46" fill="#000" text-anchor="start" letter-spacing="0.55">16206</text>
<text x="1895" y="2058" font-family='"Liberation Sans", sans-serif' font-size="46" fill="#000" text-anchor="start" letter-spacing="0.55">35740</text>
<text x="1571" y="2304.5" font-family='"Liberation Sans", sans-serif' font-size="46" fill="#000" text-anchor="start" letter-spacing="0.55">1689</text>
<text x="1897.5" y="2304.5" font-family='"Liberation Sans", sans-serif' font-size="46" fill="#000" text-anchor="start" letter-spacing="0.55">1276</text>
<text x="541.3" y="1512" font-family='"Liberation Sans", sans-serif' font-size="38.2" fill="#000" stroke="#000" stroke-width="0.7" text-anchor="middle" letter-spacing="-1.5">1</text>
<text x="887.3" y="1512" font-family='"Liberation Sans", sans-serif' font-size="38.2" fill="#000" stroke="#000" stroke-width="0.7" text-anchor="middle" letter-spacing="-1.5">10</text>
<text x="1264.2" y="1512" font-family='"Liberation Sans", sans-serif' font-size="38.2" fill="#000" stroke="#000" stroke-width="0.7" text-anchor="middle" letter-spacing="-1.5">20</text>
<text x="1421.8" y="1512" font-family='"Liberation Sans", sans-serif' font-size="38.2" fill="#000" stroke="#000" stroke-width="0.7" text-anchor="middle" letter-spacing="-1.5">24</text>
<rect x="420.5" y="1519.1" width="65.8" height="53.80000000000018" fill="#0ba536"/>
<rect x="486" y="1519.1" width="38.4" height="53.80000000000018" fill="#bebebe"/>
<rect x="524.1" y="1519.1" width="80.0" height="53.80000000000018" fill="#ffff0f"/>
<rect x="603.8" y="1519.1" width="36.5" height="53.80000000000018" fill="#0ba536"/>
<rect x="640" y="1519.1" width="36.6" height="53.80000000000018" fill="#ffff0f"/>
<rect x="676.3" y="1519.1" width="39.0" height="53.80000000000018" fill="#fe0000"/>
<rect x="715" y="1519.1" width="117.2" height="53.80000000000018" fill="#ffff0f"/>
<rect x="831.9" y="1519.1" width="38.4" height="53.80000000000018" fill="#fe0000"/>
<rect x="870" y="1519.1" width="77.3" height="53.80000000000018" fill="#ffff0f"/>
<rect x="947" y="1519.1" width="38.7" height="53.80000000000018" fill="#fe0000"/>
<rect x="985.4" y="1519.1" width="37.2" height="53.80000000000018" fill="#ffff0f"/>
<rect x="1022.3" y="1519.1" width="38.9" height="53.80000000000018" fill="#fe0000"/>
<rect x="1060.9" y="1519.1" width="37.1" height="53.80000000000018" fill="#ffff0f"/>
<rect x="1097.7" y="1519.1" width="38.7" height="53.80000000000018" fill="#fe0000"/>
<rect x="1136.1" y="1519.1" width="32.2" height="53.80000000000018" fill="#0ba536"/>
<rect x="1168" y="1519.1" width="40.5" height="53.80000000000018" fill="#ffff0f"/>
<rect x="1208.2" y="1519.1" width="114.8" height="53.80000000000018" fill="#129ee6"/>
<rect x="1322.7" y="1519.1" width="78.9" height="53.80000000000018" fill="#ffff0f"/>
<rect x="1401.3" y="1519.1" width="38.9" height="53.80000000000018" fill="#fe0000"/>
<text x="436.2 469.2 504.6 544.0 584.0 620.6 657.3 695.1 733.1 772.8 813.3 850.4 888.3 928.0 966.3 1005.0 1041.6 1080.2 1117.5 1151.5 1188.7 1227.7 1265.7 1303.2 1342.7 1382.3 1420.3" y="1562.2" font-family='"Liberation Sans", sans-serif' font-size="40" fill="#1b1b3a" text-anchor="middle">TTNGGTGAGGGAGGAGAGATGCCCGGA</text>
<text x="435.7 471.0 546.2 584.2 622.3 660.4 698.4 736.5 774.5 812.5 850.6 888.7 926.7 964.8 1002.8 1040.8 1078.9 1117.0 1155.0 1193.0 1231.1 1269.2 1307.2 1345.2 1383.3 1421.3" y="1637.2" font-family='"Liberation Sans", sans-serif' font-size="38" fill="#000" text-anchor="middle">••••••••••••••••••••••••••</text>
<text x="504.2" y="1635.7" font-family='"Liberation Sans", sans-serif' font-size="40" fill="#1b1b3a" text-anchor="middle">G</text>
<rect x="420.5" y="1670.2" width="36.6" height="53.6" fill="#ffff0f"/>
<rect x="565.2" y="1670.2" width="38.6" height="53.6" fill="#fe0000"/>
<rect x="1250.2" y="1670.2" width="79.7" height="53.6" fill="#fe0000"/>
<rect x="1403.5" y="1670.2" width="36.4" height="53.6" fill="#ffff0f"/>
<text x="471.0 546.2 622.3 660.4 698.4 736.5 774.5 812.5 850.6 888.7 926.7 964.8 1002.8 1040.8 1078.9 1117.0 1155.0 1193.0 1231.1 1345.2 1383.3" y="1714.2" font-family='"Liberation Sans", sans-serif' font-size="38" fill="#000" text-anchor="middle">•••••••••••••••••••••</text>
<text x="438.2 504.2 584.9 1270.4 1308.1 1424.2" y="1712.7" font-family='"Liberation Sans", sans-serif' font-size="40" fill="#1b1b3a" text-anchor="middle">GGAAAG</text>
<rect x="566" y="1753.5" width="38.7" height="53.5" fill="#fe0000"/>
<rect x="1060.9" y="1753.5" width="38.4" height="53.5" fill="#fe0000"/>
<rect x="1250.2" y="1753.5" width="119.8" height="53.5" fill="#fe0000"/>
<rect x="1370" y="1753.5" width="72.6" height="53.5" fill="#ffff0f"/>
<rect x="1442.6" y="1753.5" width="38.4" height="53.5" fill="#fe0000"/>
<text x="435.7 471.0 547.5 623.6 661.6 699.7 737.8 775.8 813.8 851.9 890.0 928.0 966.0 1004.1 1042.1 1118.2 1156.3 1194.3 1232.4" y="1797.2" font-family='"Liberation Sans", sans-serif' font-size="38" fill="#000" text-anchor="middle">•••••••••••••••••••</text>
<text x="504.2 585.5 1080.9 1270.3 1308.2 1348.5 1389.6 1424.2 1462.2" y="1795.3" font-family='"Liberation Sans", sans-serif' font-size="40" fill="#1b1b3a" text-anchor="middle">GAAAAAGGA</text>
<text x="541.8" y="1916" font-family='"Liberation Sans", sans-serif' font-size="38.2" fill="#000" stroke="#000" stroke-width="0.7" text-anchor="middle" letter-spacing="-1.5">1</text>
<text x="879.0999999999999" y="1916" font-family='"Liberation Sans", sans-serif' font-size="38.2" fill="#000" stroke="#000" stroke-width="0.7" text-anchor="middle" letter-spacing="-1.5">10</text>
<text x="1255.8" y="1916" font-family='"Liberation Sans", sans-serif' font-size="38.2" fill="#000" stroke="#000" stroke-width="0.7" text-anchor="middle" letter-spacing="-1.5">20</text>
<text x="1397.7" y="1916" font-family='"Liberation Sans", sans-serif' font-size="38.2" fill="#000" stroke="#000" stroke-width="0.7" text-anchor="middle" letter-spacing="-1.5">24</text>
<rect x="420.5" y="1922.9" width="65.8" height="53.5" fill="#0ba536"/>
<rect x="486" y="1922.9" width="38.4" height="53.5" fill="#bebebe"/>
<rect x="524.1" y="1922.9" width="80.0" height="53.5" fill="#ffff0f"/>
<rect x="603.8" y="1922.9" width="36.5" height="53.5" fill="#fe0000"/>
<rect x="640" y="1922.9" width="34.4" height="53.5" fill="#0ba536"/>
<rect x="674.1" y="1922.9" width="80.0" height="53.5" fill="#ffff0f"/>
<rect x="753.8" y="1922.9" width="75.3" height="53.5" fill="#129ee6"/>
<rect x="828.75" y="1922.9" width="68.8" height="53.5" fill="#0ba536"/>
<rect x="897.3" y="1922.9" width="37.8" height="53.5" fill="#129ee6"/>
<rect x="934.8" y="1922.9" width="34.9" height="53.5" fill="#0ba536"/>
<rect x="969.4" y="1922.9" width="75.5" height="53.5" fill="#129ee6"/>
<rect x="1044.6" y="1922.9" width="36.5" height="53.5" fill="#ffff0f"/>
<rect x="1080.8" y="1922.9" width="38.4" height="53.5" fill="#fe0000"/>
<rect x="1118.9" y="1922.9" width="38.6" height="53.5" fill="#129ee6"/>
<rect x="1157.2" y="1922.9" width="79.7" height="53.5" fill="#ffff0f"/>
<rect x="1236.6" y="1922.9" width="36.0" height="53.5" fill="#fe0000"/>
<rect x="1272.3" y="1922.9" width="34.9" height="53.5" fill="#0ba536"/>
<rect x="1306.9" y="1922.9" width="37.4" height="53.5" fill="#ffff0f"/>
<rect x="1344" y="1922.9" width="34.9" height="53.5" fill="#0ba536"/>
<rect x="1378.6" y="1922.9" width="38.2" height="53.5" fill="#129ee6"/>
<text x="436.2 470.3 505.2 544.5 584.7 622.1 656.3 694.1 733.6 771.6 810.3 845.5 879.4 914.6 950.8 985.6 1024.0 1062.6 1100.4 1136.8 1176.5 1216.0 1253.6 1288.6 1324.9 1361.6 1396.9" y="1966.6" font-family='"Liberation Sans", sans-serif' font-size="40" fill="#1b1b3a" text-anchor="middle">TTNGGATGGCCTTCTCCGACGGATGTC</text>
<text x="440.2 471.0 544.0 581.2 618.5 655.7 692.9 730.1 767.4 804.6 841.8 879.1 916.3 953.5 990.8 1028.0 1065.2 1102.4 1139.7 1176.9 1214.1 1251.4 1288.6 1325.8 1363.1 1400.3" y="2054.4" font-family='"Liberation Sans", sans-serif' font-size="38" fill="#000" text-anchor="middle">••••••••••••••••••••••••••</text>
<text x="506.5" y="2053" font-family='"Liberation Sans", sans-serif' font-size="40" fill="#1b1b3a" text-anchor="middle">A</text>
<text x="541.4" y="2172.5" font-family='"Liberation Sans", sans-serif' font-size="38.2" fill="#000" stroke="#000" stroke-width="0.7" text-anchor="middle" letter-spacing="-1.5">1</text>
<text x="879.0999999999999" y="2172.5" font-family='"Liberation Sans", sans-serif' font-size="38.2" fill="#000" stroke="#000" stroke-width="0.7" text-anchor="middle" letter-spacing="-1.5">10</text>
<text x="1255.8" y="2172.5" font-family='"Liberation Sans", sans-serif' font-size="38.2" fill="#000" stroke="#000" stroke-width="0.7" text-anchor="middle" letter-spacing="-1.5">20</text>
<text x="1397.7" y="2172.5" font-family='"Liberation Sans", sans-serif' font-size="38.2" fill="#000" stroke="#000" stroke-width="0.7" text-anchor="middle" letter-spacing="-1.5">24</text>
<rect x="421.2" y="2177.3" width="65.7" height="53.59999999999991" fill="#0ba536"/>
<rect x="486.6" y="2177.3" width="38.7" height="53.59999999999991" fill="#bebebe"/>
<rect x="525" y="2177.3" width="33.3" height="53.59999999999991" fill="#0ba536"/>
<rect x="558" y="2177.3" width="38.7" height="53.59999999999991" fill="#ffff0f"/>
<rect x="596.4" y="2177.3" width="38.7" height="53.59999999999991" fill="#fe0000"/>
<rect x="634.8" y="2177.3" width="35.6" height="53.59999999999991" fill="#129ee6"/>
<rect x="670.1" y="2177.3" width="38.2" height="53.59999999999991" fill="#fe0000"/>
<rect x="708" y="2177.3" width="112.6" height="53.59999999999991" fill="#129ee6"/>
<rect x="820.3" y="2177.3" width="35.5" height="53.59999999999991" fill="#fe0000"/>
<rect x="855.5" y="2177.3" width="75.6" height="53.59999999999991" fill="#129ee6"/>
<rect x="930.8" y="2177.3" width="35.3" height="53.59999999999991" fill="#fe0000"/>
<rect x="965.8" y="2177.3" width="151.2" height="53.59999999999991" fill="#129ee6"/>
<rect x="1116.7" y="2177.3" width="35.7" height="53.59999999999991" fill="#fe0000"/>
<rect x="1152.1" y="2177.3" width="42.0" height="53.59999999999991" fill="#ffff0f"/>
<rect x="1193.75" y="2177.3" width="38.3" height="53.59999999999991" fill="#129ee6"/>
<rect x="1231.7" y="2177.3" width="40.9" height="53.59999999999991" fill="#ffff0f"/>
<rect x="1272.3" y="2177.3" width="35.6" height="53.59999999999991" fill="#fe0000"/>
<rect x="1307.6" y="2177.3" width="74.6" height="53.59999999999991" fill="#129ee6"/>
<rect x="1381.9" y="2177.3" width="33.6" height="53.59999999999991" fill="#0ba536"/>
<text x="436.2 470.3 505.2 541.3 577.6 615.4 652.8 689.0 725.3 763.6 801.9 837.5 874.4 912.3 948.6 985.6 1023.5 1061.4 1098.7 1135.6 1173.8 1212.6 1251.9 1289.5 1326.0 1363.5 1399.4" y="2221.5" font-family='"Liberation Sans", sans-serif' font-size="40" fill="#1b1b3a" text-anchor="middle">TTNTGACACCCACCACCCCAGCGACCT</text>
<text x="439.5 470.3 542.2 579.4 616.7 653.9 691.1 728.4 765.6 802.8 840.0 877.3 914.5 951.7 989.0 1026.2 1063.4 1100.7 1137.9 1175.1 1212.3 1249.6 1286.8 1324.0 1361.3 1398.5" y="2302.7999999999997" font-family='"Liberation Sans", sans-serif' font-size="38" fill="#000" text-anchor="middle">••••••••••••••••••••••••••</text>
<text x="506.0" y="2304.4" font-family='"Liberation Sans", sans-serif' font-size="40" fill="#1b1b3a" text-anchor="middle">C</text>
</g>
</svg>
</body></html>
